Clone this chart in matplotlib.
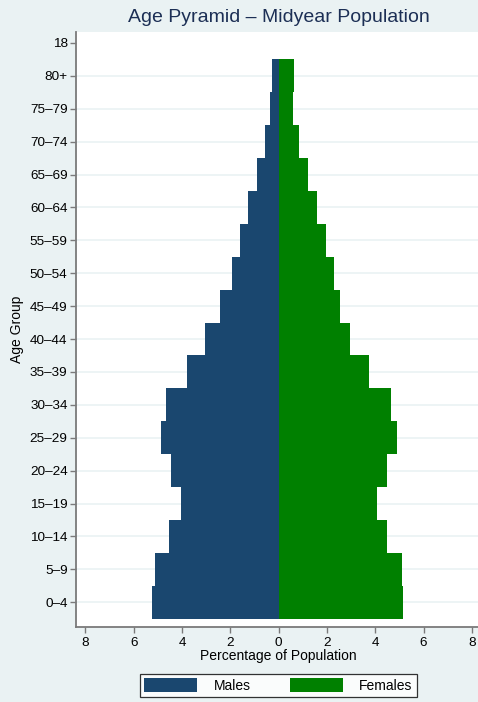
import matplotlib
matplotlib.use("Agg")
import matplotlib.pyplot as plt
import numpy as np

plt.rcParams['font.family'] = ['Liberation Sans', 'DejaVu Sans']

# age groups, bottom to top
age_groups = ["0–4", "5–9", "10–14", "15–19", "20–24", "25–29", "30–34", "35–39",
              "40–44", "45–49", "50–54", "55–59", "60–64", "65–69", "70–74", "75–79", "80+"]
extra_label = "18"

# percent of population
males = [5.23, 5.12, 4.53, 4.06, 4.45, 4.89, 4.67, 3.80, 3.05, 2.41,
         1.93, 1.60, 1.26, 0.90, 0.58, 0.36, 0.26]
females = [5.16, 5.09, 4.50, 4.08, 4.47, 4.89, 4.64, 3.73, 2.95, 2.53,
           2.28, 1.96, 1.60, 1.23, 0.85, 0.59, 0.63]

x_ticks = [-8, -6, -4, -2, 0, 2, 4, 6, 8]

bg = "#eaf2f3"
male_col = "#1a476f"
female_col = "#008000"
axis_col = "#7a7a7a"

fig = plt.figure(figsize=(4.78, 7.02), dpi=100, facecolor=bg)
ax = fig.add_axes([76/478, 1 - 626.7/702, (481.3 - 76)/478, (626.7 - 31.7)/702])
ax.set_facecolor("white")

y = np.arange(len(age_groups))
for yy in y:
    ax.axhline(yy, color=bg, lw=1.2, zorder=0)

ax.barh(y, -np.array(males), height=1.0, color=male_col, label="Males", zorder=2)
ax.barh(y, females, height=1.0, color=female_col, label="Females", zorder=2)

ax.set_xlim(-8.39, 8.39)
ax.set_ylim(-0.742, 17.34)

ax.set_yticks(list(y) + [len(age_groups)])
ax.set_yticklabels(age_groups + [extra_label])
ax.set_xticks(x_ticks)
ax.set_xticklabels([str(abs(t)) for t in x_ticks])

for s in ["top", "right"]:
    ax.spines[s].set_visible(False)
for s in ["left", "bottom"]:
    ax.spines[s].set_color(axis_col)
    ax.spines[s].set_linewidth(1.3)
ax.tick_params(axis="both", colors=axis_col, labelcolor="black", labelsize=9.7,
               length=4, width=1)
ax.tick_params(axis="y", pad=2)
ax.tick_params(axis="x", pad=3.5)

ax.set_xlabel("Percentage of Population", fontsize=10, labelpad=0)
ax.set_ylabel("Age Group", fontsize=10, labelpad=4)

fig.text(278.5/478, 1 - 18/702, "Age Pyramid – Midyear Population", fontsize=14,
         color="#1c2f55", ha="center", va="center")

leg = fig.legend(loc="center", bbox_to_anchor=(278.5/478, 1 - 685.5/702), ncol=2,
                 fontsize=10, frameon=True, fancybox=False, edgecolor="black",
                 handlelength=3.8, handleheight=1.1, handletextpad=1.2,
                 columnspacing=2.8, borderpad=0.3, borderaxespad=0)
leg.get_frame().set_linewidth(0.9)

fig.savefig("out.png", dpi=100, facecolor=bg)
